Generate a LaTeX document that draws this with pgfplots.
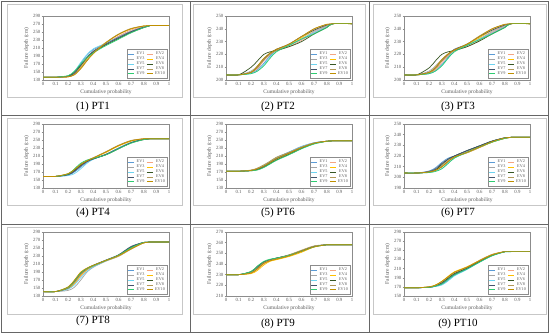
\documentclass[border=0pt]{standalone}
\usepackage{fontspec}
\setmainfont{Liberation Serif}
\usepackage{pgfplots}
\usepackage{pgfplotstable}
\pgfplotsset{compat=1.18}
\definecolor{c1}{HTML}{5B9BD5}
\definecolor{c2}{HTML}{F4A582}
\definecolor{c3}{HTML}{A5A5A5}
\definecolor{c4}{HTML}{FFC000}
\definecolor{c5}{HTML}{6DD3F0}
\definecolor{c6}{HTML}{375623}
\definecolor{c7}{HTML}{44546A}
\definecolor{c8}{HTML}{B49A5A}
\definecolor{c9}{HTML}{2ECC71}
\definecolor{c10}{HTML}{BF8F00}
\definecolor{txt}{HTML}{595959}
\definecolor{frm}{HTML}{8C8C8C}
\newcommand{\lt}[1]{\textcolor{txt}{#1}}
\pgfplotsset{
  panel/.style={
    scale only axis, width=126pt, height=64pt, anchor=south west,
    xmin=0, xmax=1, xtick={0,0.1,0.2,0.3,0.4,0.5,0.6,0.7,0.8,0.9,1},
    /pgf/number format/assume math mode=true,
    axis line style={frm, line width=0.5pt},
    tick style={frm, line width=0.4pt}, tick align=outside, tick pos=left,
    major tick length=1.5pt,
    ticklabel style={font=\fontsize{4.8}{5}\selectfont, text=txt, inner sep=1pt},
    label style={font=\fontsize{5.5}{6}\selectfont, text=txt},
    xlabel={Cumulative probability}, ylabel={Failure depth (cm)},
    xlabel style={at={(axis description cs:0.5,-0.19)}, anchor=center},
    ylabel style={at={(axis description cs:-0.13,0.5)}, anchor=center, rotate=0},
    legend columns=2,
    legend style={at={(0.99,0.02)}, anchor=south east, draw=frm,
      font=\fontsize{4.2}{4.4}\selectfont, inner sep=0.6pt,
      row sep=-3.4pt, column sep=0pt},
    legend image code/.code={\draw[##1] (0pt,0pt) -- (6pt,0pt);},
  }
}
\newcommand{\panel}[6]{%
\begin{axis}[panel, at={(#1pt,#2pt)}, ymin=#3, ymax=#4, ytick={#3,#5,...,#4}]
\pgfplotsinvokeforeach{1,...,10}{\addlegendimage{c##1, line width=0.7pt}
\addlegendentry{\lt{EV##1}}}
\pgfplotsinvokeforeach{1,...,10}{\addplot[c##1, line width=0.7pt, smooth, forget plot] table[x=x,y=e##1]{#6};}
\end{axis}}

% PT1
\pgfplotstableread{
x    e1  e2  e3  e4  e5  e6  e7  e8  e9  e10
0    137 137 137 137 137 137 137 137 137 137
0.1  137 137 137 137 137 137 137 137 137 137
0.2  139 138 139 138 140 140 139 138 141 138
0.25 150 145 148 145 152 150 147 144 152 143
0.3  172 160 166 162 174 168 166 160 170 158
0.35 192 180 186 184 194 186 186 180 186 178
0.4  206 198 202 200 208 200 202 198 198 196
0.5  222 220 222 224 222 218 220 224 216 223
0.6  238 240 238 244 236 234 236 245 232 244
0.7  252 255 252 258 250 249 251 259 248 258
0.8  263 264 263 265 262 261 262 265 261 265
0.85 266 266 266 266 266 266 266 266 266 266
1    266 266 266 266 266 266 266 266 266 266
}\tA
% PT2
\pgfplotstableread{
x    e1    e2    e3    e4    e5    e6    e7    e8    e9    e10
0    204   204   204   204   204   204   204   204   204   204
0.1  204   204   204   204   204   204   204   204   204   204
0.2  205.5 206   207   206   205   210   206   206   205   206
0.25 208   209   211   210   207   215   210   210   207   211
0.3  213   215   216   216   212   220   216   216   211   217
0.35 219   220   220   221   218   222   221   220   217   221
0.4  223   223   223   223.5 222.5 223   224   223   222   224
0.5  227   226   227   227   227   226   228   228   227   228
0.6  232   231   232   233   232   230   234   234   232   234
0.7  237   237   238   239   237   236   239   240   236   240
0.8  242   242   242.5 243   241.5 241   243   243.5 241   243.5
0.85 244   244   244   244   244   244   244   244   244   244
1    244   244   244   244   244   244   244   244   244   244
}\tB
% PT3
\pgfplotstableread{
x    e1    e2    e3    e4    e5    e6    e7    e8    e9    e10
0    204   204   204   204   204   204   204   204   204   204
0.1  204   204   204   204   204   204   204   204   204   204
0.2  205   205.5 207   205.5 205   209.5 206   205.5 205   206
0.25 207.5 208   211   209   207   215   209.5 209   207   210
0.3  212   213.5 216   215   211.5 220   215   215   211   216
0.35 218   219   220   220   217   222   220   219.5 217   220.5
0.4  223   223   223   223.5 222.5 223   224   223   222   223.5
0.5  227   226   227   227.5 227   226   228   228   227   228
0.6  232   231   232   233   232   230.5 234   234.5 231.5 234
0.7  237   237   238   239   236.5 236   239   240   236   240
0.8  242   242   242.5 243   241.5 241   243   243.5 241   243.5
0.85 244   244   244   244   244   244   244   244   244   244
1    244   244   244   244   244   244   244   244   244   244
}\tC
% PT4
\pgfplotstableread{
x    e1  e2  e3  e4  e5  e6  e7  e8  e9  e10
0    159 159 159 159 159 159 159 159 159 159
0.1  159 159 159 159 159 159 159 159 159 159
0.2  162 165 164 165 161 164 163 166 165 166
0.25 170 175 173 175 166 174 172 177 178 176
0.3  182 188 185 188 178 187 185 190 192 189
0.35 194 198 196 198 192 197 196 199 200 198
0.4  202 205 203 205 202 203 203 206 204 205
0.5  214 220 215 219 214 213 214 221 213 220
0.6  230 236 230 235 230 228 229 237 228 236
0.7  244 248 244 247 244 243 243 249 242 248
0.8  252 253 252 253 252 251 252 253 251 253
0.85 253 253 253 253 253 253 253 253 253 253
1    253 253 253 253 253 253 253 253 253 253
}\tD
% PT6
\pgfplotstableread{
x    e1  e2  e3  e4  e5  e6  e7  e8  e9    e10
0    172 172 172 172 172 172 172 172 172   172
0.1  172 172 172 172 172 172 172 172 172   172
0.2  174 174 174 174 174 173 174 175 173   174
0.25 178 178 178 177 178 176 177 180 175   178
0.3  186 185 186 184 186 182 184 188 181   185
0.35 196 195 196 193 195 191 194 197 190   194
0.4  206 204 206 202 205 200 203 207 199   204
0.5  220 218 219 216 219 214 217 219 213   217
0.6  234 232 233 231 233 229 231 232 228   231
0.7  243 242 243 242 243 241 242 242 240   242
0.8  247 247 247 247 247 247 247 247 246.5 247
0.85 248 248 248 248 248 248 248 248 248   248
1    248 248 248 248 248 248 248 248 248   248
}\tE
% PT7
\pgfplotstableread{
x    e1    e2    e3    e4    e5    e6    e7    e8    e9    e10
0    204   204   204   204   204   204   204   204   204   204
0.1  204   204   204   204   204   204   204   204   204   204
0.2  206   205   205   205   204.5 205   205.5 205   204.5 205
0.25 209   207   207   206.5 206   207   208   206.5 205.5 206.5
0.3  214   210   211   210   208   212   213   209.5 208   210
0.35 218   215   216   215   213   217   217   214.5 213   215
0.4  220   219   219.5 219   218   220   220   219   218   219
0.5  225   223   224   223   223.5 225   225   223   223.5 223.5
0.6  229.5 228   229   228   228.5 229.5 229.5 228   228.5 228.5
0.7  234   233   233.5 233   233.5 234   234   233   233   233.5
0.8  237   236.5 237   236.5 237   237   237   236.5 236.5 237
0.85 237.5 237.5 237.5 237.5 237.5 237.5 237.5 237.5 237.5 237.5
1    237.5 237.5 237.5 237.5 237.5 237.5 237.5 237.5 237.5 237.5
}\tF
% PT8
\pgfplotstableread{
x    e1  e2  e3  e4  e5  e6  e7  e8  e9  e10
0    141 141 141 141 141 141 141 141 141 141
0.1  141 141 141 141 141 141 141 141 141 141
0.2  150 148 144 149 147 150 151 150 152 153
0.25 165 160 152 162 158 166 167 164 168 170
0.3  185 180 170 182 176 186 187 184 188 190
0.35 198 195 190 196 192 198 199 197 199 200
0.4  206 204 202 205 203 206 207 205 206 207
0.5  219 218 217 218 218 219 220 219 219 219
0.6  232 230 229 230 231 232 233 231 232 231
0.7  253 248 247 248 250 252 254 249 251 248
0.8  264 263 263 263 264 264 264 263 264 263
0.85 265 265 265 265 265 265 265 265 265 265
1    265 265 265 265 265 265 265 265 265 265
}\tG
% PT9
\pgfplotstableread{
x    e1    e2    e3    e4    e5    e6    e7    e8    e9    e10
0    230   230   230   230   230   230   230   230   230   230
0.1  230   230   230   230   230   230   230   230   230   230
0.2  232   231.5 232   231   232.5 233   232.5 232   233   231.5
0.25 236.5 235   236   234   237   238   237   236   238   235.5
0.3  241   240   241   239   241.5 242   241.5 241   242.5 240.5
0.35 243.5 243   243.5 242.5 244   244   244   243.5 244.5 243
0.4  245   244.5 245   244   245.5 245.5 245.5 245   245.5 244.5
0.5  248   247.5 248   247   248   248.5 248   248.5 248   247.5
0.6  252   251.5 252   251   252   252.5 252   253   252   252
0.7  256.5 256   256.5 256   256.5 256.5 256.5 257   256   256
0.8  258   258   258   258   258   258   258   258   258   258
0.85 258   258   258   258   258   258   258   258   258   258
1    258   258   258   258   258   258   258   258   258   258
}\tH
% PT10
\pgfplotstableread{
x    e1  e2  e3  e4  e5    e6    e7  e8  e9    e10
0    168 168 168 168 168   168   168 168 168   168
0.1  168 168 168 168 168   168   168 168 168   168
0.2  169 170 169 170 169   169.5 169 170 169   170
0.25 171 173 172 174 171   172   172 173 171.5 174
0.3  175 180 178 182 174   179   177 181 176   182
0.35 184 190 188 193 183   189   187 191 186   192
0.4  195 200 198 203 194   199   197 201 196   202
0.5  209 212 211 214 208   211   210 213 209   213
0.6  225 227 226 228 224   226   225 228 224   227
0.7  239 240 239 241 238   239   239 241 238   240
0.8  247 247 247 247 246.5 247   247 247 246.5 247
0.85 247 247 247 247 247   247   247 247 247   247
1    247 247 247 247 247   247   247 247 247   247
}\tI

\begin{document}
\begin{tikzpicture}[x=1pt,y=1pt]
\useasboundingbox (0,0) rectangle (550,336);
% chart area boxes
\foreach \xa/\xb in {7/182,193/365,373/546}{
  \foreach \ya/\yb in {239/332,131/218,22/109}{
    \draw[black!22, line width=0.6pt] (\xa,\ya) rectangle (\xb,\yb);
  }
}
% table lines
\draw[black!60, line width=0.9pt] (1.5,4) rectangle (548.5,334.5);
\draw[black!60, line width=0.9pt] (190,4) -- (190,334.5);
\draw[black!60, line width=0.9pt] (369,4) -- (369,334.5);
\draw[black!60, line width=0.9pt] (1.5,220.5) -- (548.5,220.5);
\draw[black!60, line width=0.9pt] (1.5,112) -- (548.5,112);
% panels
\panel{43}{256}{130}{290}{150}{\tA}
\panel{226}{256}{200}{250}{210}{\tB}
\panel{404}{256}{200}{250}{210}{\tC}
\panel{43}{148}{130}{290}{150}{\tD}
\panel{226}{148}{130}{290}{150}{\tE}
\panel{404}{148}{190}{250}{200}{\tF}
\panel{43}{40}{130}{290}{150}{\tG}
\panel{226}{40}{210}{270}{220}{\tH}
\panel{404}{40}{150}{290}{170}{\tI}
% captions
\begin{scope}[every node/.style={font=\fontsize{11}{12}\selectfont}]
\node at (93,229) {(1) PT1};
\node at (278,229) {(2) PT2};
\node at (458,229) {(3) PT3};
\node at (93,123) {(4) PT4};
\node at (278,123) {(5) PT6};
\node at (458,123) {(6) PT7};
\node at (93,15) {(7) PT8};
\node at (278,12) {(8) PT9};
\node at (458,12) {(9) PT10};
\end{scope}
\end{tikzpicture}
\end{document}
